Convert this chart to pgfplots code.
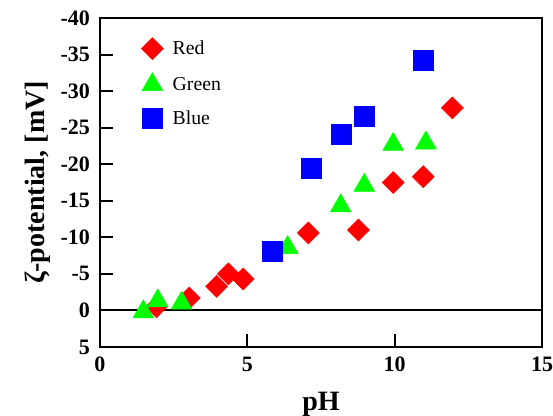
\documentclass[border=0pt]{standalone}
\usepackage{fontspec}
\setmainfont{Liberation Serif}
\usepackage{pgfplots}
\pgfplotsset{compat=1.18}

\begin{document}
\begin{tikzpicture}
\begin{axis}[
  name=ax,
  scale only axis,
  width=331.5pt, height=246.75pt,
  xmin=0, xmax=15, ymin=-40, ymax=5,
  y dir=reverse,
  xtick={0,5,10,15}, ytick={-40,-35,...,5},
  tick align=inside,
  xtick pos=bottom, ytick pos=left,
  major tick length=9.75pt,
  axis line style={line width=2pt},
  every tick/.style={black, line width=1.5pt},
  /pgf/number format/assume math mode=true,
  ticklabel style={font=\fontsize{16.5}{18}\selectfont\bfseries},
  xticklabel style={yshift=-4pt},
  yticklabel style={xshift=-4pt},
  xlabel={pH}, ylabel={ζ-potential, [mV]},
  label style={font=\fontsize{21}{24}\selectfont\bfseries},
  xlabel style={yshift=-8pt},
  ylabel style={yshift=1pt},
  legend style={draw=none, fill=none, at={(0.084,0.949)}, anchor=north west,
    font=\fontsize{14.8}{17}\selectfont, row sep=9.75pt, column sep=5pt},
  legend cell align=left,
]
% zero reference line
\addplot[black, line width=1.5pt, forget plot] coordinates {(0,0) (15,0)};

\addplot[only marks, mark=square*, mark size=5.83pt, color=red,
  mark options={rotate=45, fill=red, draw=red}]
  coordinates {(1.92,-0.5) (3.03,-1.7) (3.96,-3.3) (4.36,-5.0) (4.86,-4.3)
    (7.07,-10.6) (8.77,-11.0) (9.95,-17.5) (10.97,-18.3) (11.96,-27.7)};
\addlegendentry{Red}

\addplot[only marks, mark=triangle*, mark size=9pt, color=green,
  mark options={fill=green, draw=green}]
  coordinates {(1.47,0.2) (1.96,-1.3) (2.77,-1.0) (6.37,-8.6) (8.17,-14.3)
    (8.97,-17.1) (9.95,-22.7) (11.06,-22.9)};
\addlegendentry{Green}

\addplot[only marks, mark=square*, mark size=7.5pt, color=blue,
  mark options={fill=blue, draw=blue}]
  coordinates {(5.85,-8.1) (7.16,-19.5) (8.18,-24.1) (8.97,-26.5) (10.97,-34.2)};
\addlegendentry{Blue}
\end{axis}
\pgfresetboundingbox
\path[use as bounding box] ([xshift=-75pt,yshift=-51.75pt]ax.south west)
  rectangle ([xshift=8.25pt,yshift=13.5pt]ax.north east);
\end{tikzpicture}
\end{document}
